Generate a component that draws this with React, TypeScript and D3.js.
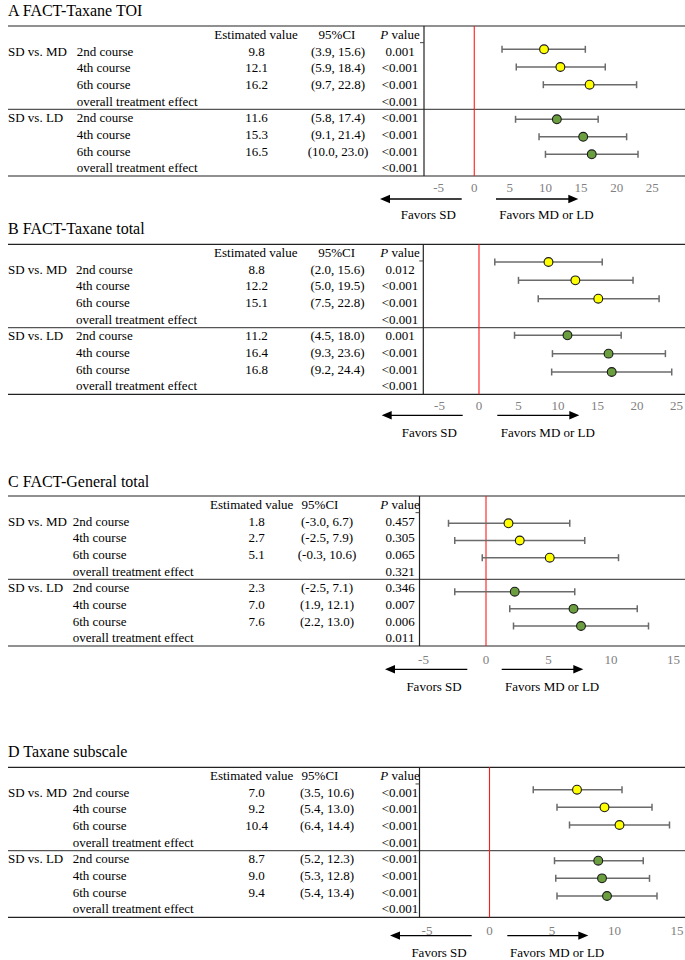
import React from "react";
import * as d3 from "d3";

// ---------------- DATA ----------------
const panelTitles = ["A FACT-Taxane TOI", "B FACT-Taxane total", "C FACT-General total", "D Taxane subscale"];
const groupLabels = ["SD vs. MD", "SD vs. LD"];
const courseLabels = ["2nd course", "4th course", "6th course"];
const overallLabel = "overall treatment effect";
const headerLabels = ["Estimated value", "95%CI", "P value"];
const favorsLabels = ["Favors SD", "Favors MD or LD"];

// order: MD 2nd, 4th, 6th, LD 2nd, 4th, 6th
const estimatesA = [9.8, 12.1, 16.2, 11.6, 15.3, 16.5];
const lowerA = [3.9, 5.9, 9.7, 5.8, 9.1, 10.0];
const upperA = [15.6, 18.4, 22.8, 17.4, 21.4, 23.0];
// order: MD 2nd, 4th, 6th, overall, LD 2nd, 4th, 6th, overall
const pValuesA = ["0.001", "<0.001", "<0.001", "<0.001", "<0.001", "<0.001", "<0.001", "<0.001"];

const estimatesB = [8.8, 12.2, 15.1, 11.2, 16.4, 16.8];
const lowerB = [2.0, 5.0, 7.5, 4.5, 9.3, 9.2];
const upperB = [15.6, 19.5, 22.8, 18.0, 23.6, 24.4];
const pValuesB = ["0.012", "<0.001", "<0.001", "<0.001", "0.001", "<0.001", "<0.001", "<0.001"];

const estimatesC = [1.8, 2.7, 5.1, 2.3, 7.0, 7.6];
const lowerC = [-3.0, -2.5, -0.3, -2.5, 1.9, 2.2];
const upperC = [6.7, 7.9, 10.6, 7.1, 12.1, 13.0];
const pValuesC = ["0.457", "0.305", "0.065", "0.321", "0.346", "0.007", "0.006", "0.011"];

const estimatesD = [7.0, 9.2, 10.4, 8.7, 9.0, 9.4];
const lowerD = [3.5, 5.4, 6.4, 5.2, 5.3, 5.4];
const upperD = [10.6, 13.0, 14.4, 12.3, 12.8, 13.4];
const pValuesD = ["<0.001", "<0.001", "<0.001", "<0.001", "<0.001", "<0.001", "<0.001", "<0.001"];

const ticksAB = [-5, 0, 5, 10, 15, 20, 25];
const ticksCD = [-5, 0, 5, 10, 15];

// ---------------- LAYOUT ----------------
const W = 685;
const H = 960;
const FONT = "'Liberation Serif', 'Times New Roman', Times, serif";
const TABLE_H = 150;
const groupColors = ["#FFFF00", "#6A9E3E"];

type Layout = {
  top: number; titleY: number; plotLeft: number; domain: [number, number];
  courseX: number; estHeaderX: number; ciHeaderX: number; ciX: number;
  yellow: [number, number]; green: [number, number];
  tickDy: number; arrowDy: number; favorsDy: number;
  leftArrow: [number, number]; rightArrow: [number, number];
  favorsSDx: number; favorsMDx: number;
};

const layouts: Layout[] = [
  { top: 26, titleY: 15.7, plotLeft: 424, domain: [-7.06, 29.6], courseX: 76.7, estHeaderX: 256, ciHeaderX: 337, ciX: 338,
    yellow: [23.3, 58.7], green: [93.3, 128.3], tickDy: 11.5, arrowDy: 23, favorsDy: 38.3,
    leftArrow: [380, 461.7], rightArrow: [496, 578.3], favorsSDx: 400.7, favorsMDx: 499.3 },
  { top: 244.3, titleY: 234, plotLeft: 423.3, domain: [-7.05, 26.08], courseX: 76, estHeaderX: 255.8, ciHeaderX: 336.7, ciX: 337.5,
    yellow: [17.7, 54.4], green: [91, 127.7], tickDy: 11.5, arrowDy: 21, favorsDy: 38,
    leftArrow: [381.7, 462.7], rightArrow: [497.3, 579.3], favorsSDx: 401.7, favorsMDx: 500.7 },
  { top: 496, titleY: 486.7, plotLeft: 419.5, domain: [-5.32, 15.92], courseX: 72.7, estHeaderX: 251.7, ciHeaderX: 320, ciX: 327,
    yellow: [27.3, 61.7], green: [95.7, 130], tickDy: 13, arrowDy: 23.3, favorsDy: 40,
    leftArrow: [385, 467.3], rightArrow: [501.7, 583.3], favorsSDx: 406.4, favorsMDx: 505 },
  { top: 767.3, titleY: 757, plotLeft: 419.5, domain: [-5.6, 15.64], courseX: 72.7, estHeaderX: 251.7, ciHeaderX: 320, ciX: 327,
    yellow: [22.4, 57.7], green: [93.4, 128.7], tickDy: 13.3, arrowDy: 18.3, favorsDy: 34.7,
    leftArrow: [390, 471.7], rightArrow: [507.3, 588.3], favorsSDx: 411.4, favorsMDx: 510 },
];

const panelData = [
  { est: estimatesA, lo: lowerA, hi: upperA, p: pValuesA, ticks: ticksAB },
  { est: estimatesB, lo: lowerB, hi: upperB, p: pValuesB, ticks: ticksAB },
  { est: estimatesC, lo: lowerC, hi: upperC, p: pValuesC, ticks: ticksCD },
  { est: estimatesD, lo: lowerD, hi: upperD, p: pValuesD, ticks: ticksCD },
];

const EST_X = 256.5;
const P_X = 400;

function Panel({ idx }: { idx: number }) {
  const L = layouts[idx];
  const D = panelData[idx];
  const T = L.top;
  const B = T + TABLE_H;
  const x = d3.scaleLinear().domain(L.domain).range([L.plotLeft, W]);
  const rows = d3.scaleBand<number>().domain(d3.range(9)).range([T, B]);
  const rowY = (k: number) => (rows(k) as number) + rows.bandwidth() / 2 + 4.5;
  const pointScales = [L.yellow, L.green].map((r) =>
    d3.scalePoint<string>().domain(courseLabels).range([T + r[0], T + r[1]])
  );
  const fs = 13;

  const tableRows: { group: string; label: string; est: string; ci: string; p: string }[] = [];
  groupLabels.forEach((g, gi) => {
    courseLabels.forEach((c, ci) => {
      const i = gi * 3 + ci;
      tableRows.push({
        group: ci === 0 ? g : "",
        label: c,
        est: D.est[i].toFixed(1),
        ci: `(${D.lo[i].toFixed(1)}, ${D.hi[i].toFixed(1)})`,
        p: D.p[gi * 4 + ci],
      });
    });
    tableRows.push({ group: "", label: overallLabel, est: "", ci: "", p: D.p[gi * 4 + 3] });
  });

  const arrowY = B + L.arrowDy;
  const sepY = rows(5) as number;

  return (
    <g fontFamily={FONT} fontSize={fs} fill="#000">
      <text x={8} y={L.titleY} fontSize={16}>{panelTitles[idx]}</text>
      {/* table lines */}
      <line x1={8} x2={W} y1={T} y2={T} stroke="#222" strokeWidth={1.2} />
      <line x1={8} x2={W} y1={sepY} y2={sepY} stroke="#555" strokeWidth={1.1} />
      <line x1={8} x2={W} y1={B} y2={B} stroke="#222" strokeWidth={1.2} />
      <line x1={L.plotLeft} x2={L.plotLeft} y1={T} y2={B} stroke="#222" strokeWidth={1.2} />
      <line x1={L.plotLeft - 4} x2={L.plotLeft} y1={rows(1) as number} y2={rows(1) as number} stroke="#444" strokeWidth={1} />
      {/* header */}
      <text x={L.estHeaderX} y={rowY(0)} textAnchor="middle">{headerLabels[0]}</text>
      <text x={L.ciHeaderX} y={rowY(0)} textAnchor="middle">{headerLabels[1]}</text>
      <text x={P_X} y={rowY(0)} textAnchor="middle">
        <tspan fontStyle="italic">{headerLabels[2].split(" ")[0]}</tspan>
        <tspan>{" " + headerLabels[2].split(" ")[1]}</tspan>
      </text>
      {tableRows.map((r, k) => (
        <g key={k}>
          {r.group && <text x={8} y={rowY(k + 1)}>{r.group}</text>}
          <text x={L.courseX} y={rowY(k + 1)}>{r.label}</text>
          {r.est && <text x={EST_X} y={rowY(k + 1)} textAnchor="middle">{r.est}</text>}
          {r.ci && <text x={L.ciX} y={rowY(k + 1)} textAnchor="middle">{r.ci}</text>}
          <text x={P_X} y={rowY(k + 1)} textAnchor="middle">{r.p}</text>
        </g>
      ))}
      {/* zero line */}
      <line x1={x(0)} x2={x(0)} y1={T} y2={B} stroke="#FF1A1A" strokeWidth={1.1} />
      {/* points */}
      {groupLabels.map((g, gi) =>
        courseLabels.map((c, ci) => {
          const i = gi * 3 + ci;
          const y = pointScales[gi](c) as number;
          return (
            <g key={g + c}>
              <line x1={x(D.lo[i])} x2={x(D.hi[i])} y1={y} y2={y} stroke="#6b6b6b" strokeWidth={1.5} />
              <line x1={x(D.lo[i])} x2={x(D.lo[i])} y1={y - 3.5} y2={y + 3.5} stroke="#6b6b6b" strokeWidth={1.5} />
              <line x1={x(D.hi[i])} x2={x(D.hi[i])} y1={y - 3.5} y2={y + 3.5} stroke="#6b6b6b" strokeWidth={1.5} />
              <circle cx={x(D.est[i])} cy={y} r={4.4} fill={groupColors[gi]} stroke="#1a1a1a" strokeWidth={1.1} />
            </g>
          );
        })
      )}
      {/* tick labels */}
      {D.ticks.map((t) => (
        <text key={t} x={x(t)} y={B + L.tickDy + 4.5} textAnchor="middle" fill="#808080">{t}</text>
      ))}
      {/* arrows */}
      <line x1={L.leftArrow[0] + 9} x2={L.leftArrow[1]} y1={arrowY} y2={arrowY} stroke="#000" strokeWidth={1.3} />
      <path d={`M${L.leftArrow[0]},${arrowY} L${L.leftArrow[0] + 10},${arrowY - 4.2} L${L.leftArrow[0] + 10},${arrowY + 4.2} Z`} fill="#000" />
      <line x1={L.rightArrow[0]} x2={L.rightArrow[1] - 9} y1={arrowY} y2={arrowY} stroke="#000" strokeWidth={1.3} />
      <path d={`M${L.rightArrow[1]},${arrowY} L${L.rightArrow[1] - 10},${arrowY - 4.2} L${L.rightArrow[1] - 10},${arrowY + 4.2} Z`} fill="#000" />
      <text x={L.favorsSDx} y={B + L.favorsDy + 4.5}>{favorsLabels[0]}</text>
      <text x={L.favorsMDx} y={B + L.favorsDy + 4.5}>{favorsLabels[1]}</text>
    </g>
  );
}

export default function App() {
  return (
    <svg width={W} height={H} viewBox={`0 0 ${W} ${H}`} style={{ position: "absolute", left: 0, top: 0, background: "#fff" }}>
      <rect x={0} y={0} width={W} height={H} fill="#fff" />
      {layouts.map((_, i) => (
        <Panel key={i} idx={i} />
      ))}
    </svg>
  );
}
